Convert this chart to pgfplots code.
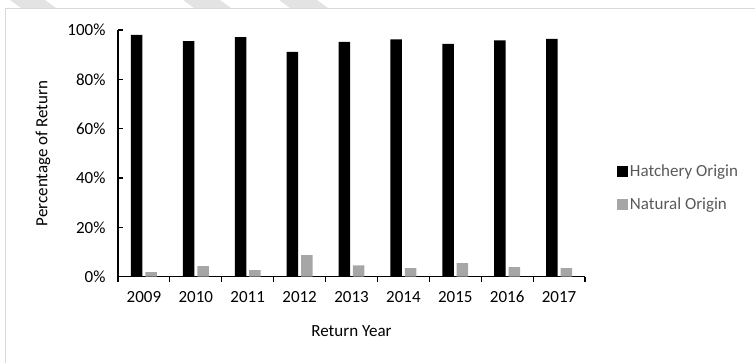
\documentclass[border=0pt]{standalone}
\usepackage{pgfplots}
\pgfplotsset{compat=1.18}
\usepackage{fontspec}
\setmainfont{Carlito}
\definecolor{natgray}{HTML}{A6A6A6}
\definecolor{txtgray}{HTML}{595959}
\definecolor{framegray}{HTML}{D9D9D9}
\newcommand{\cfont}{\fontsize{17bp}{20bp}\selectfont}
\begin{document}
\begin{tikzpicture}[x=1bp,y=1bp]
\path[use as bounding box] (0,0) rectangle (755,363);
% page background stripes and chart frame
\fill[gray!22] (10,363) -- (45,363) -- (57,354.3) -- (22,354.3) -- cycle;
\fill[gray!22] (183,363) -- (220,363) -- (232,354.3) -- (195,354.3) -- cycle;
\fill[gray!22] (279,363) -- (317,363) -- (329,354.3) -- (291,354.3) -- cycle;
\draw[framegray, line width=1.2bp] (5.5,0) -- (5.5,354.3) -- (755,354.3);
\begin{axis}[
  at={(118bp,86.3bp)}, anchor=south west,
  scale only axis, width=467bp, height=246.7bp,
  xmin=-0.5, xmax=8.5, ymin=0, ymax=100,
  axis x line=bottom, axis y line=left,
  axis line style={line width=1.5bp, -},
  tick align=inside,
  major tick length=5bp,
  tick style={line width=1.2bp, black},
  xtick={-0.5,0.5,...,8.5}, xticklabels={},
  extra x ticks={0,1,2,3,4,5,6,7,8},
  extra x tick labels={2009,2010,2011,2012,2013,2014,2015,2016,2017},
  extra x tick style={major tick length=0pt, xticklabel style={yshift=-11bp, text height=11bp, text depth=0pt}},
  ytick={0,20,40,60,80,100},
  yticklabel={\pgfmathprintnumber{\tick}\%},
  yticklabel style={xshift=-9bp},
  /pgf/number format/assume math mode=true,
  tick label style={font=\cfont, text=black},
  xlabel={Return Year}, ylabel={Percentage of Return},
  every axis x label/.style={at={(axis description cs:0.5,-0.219)}, anchor=center, font=\cfont, text=black},
  every axis y label/.style={at={(axis description cs:-0.1606,0.5)}, anchor=center, rotate=90, font=\cfont, text=black},
  ybar=0pt, bar width=11.5bp,
  legend style={draw=none, fill=none, at={(axis description cs:1.068,0.461)}, anchor=north west,
    font=\cfont, text=txtgray, row sep=15bp,
    legend cell align=left, inner sep=0pt},
  legend image code/.code={\fill[#1] (0bp,-5.5bp) rectangle (11bp,5.5bp);},
]
\addplot[fill=black, draw=none, bar shift=-7.2bp] coordinates {
  (0,98.0) (1,95.5) (2,97.1) (3,91.1) (4,95.2) (5,96.2) (6,94.4) (7,95.8) (8,96.4)};
\addlegendentry{Hatchery Origin}
\addplot[fill=natgray, draw=none, bar shift=7.2bp] coordinates {
  (0,1.9) (1,4.3) (2,2.7) (3,8.7) (4,4.6) (5,3.5) (6,5.5) (7,3.9) (8,3.5)};
\addlegendentry{Natural Origin}
\end{axis}
\end{tikzpicture}
\end{document}
